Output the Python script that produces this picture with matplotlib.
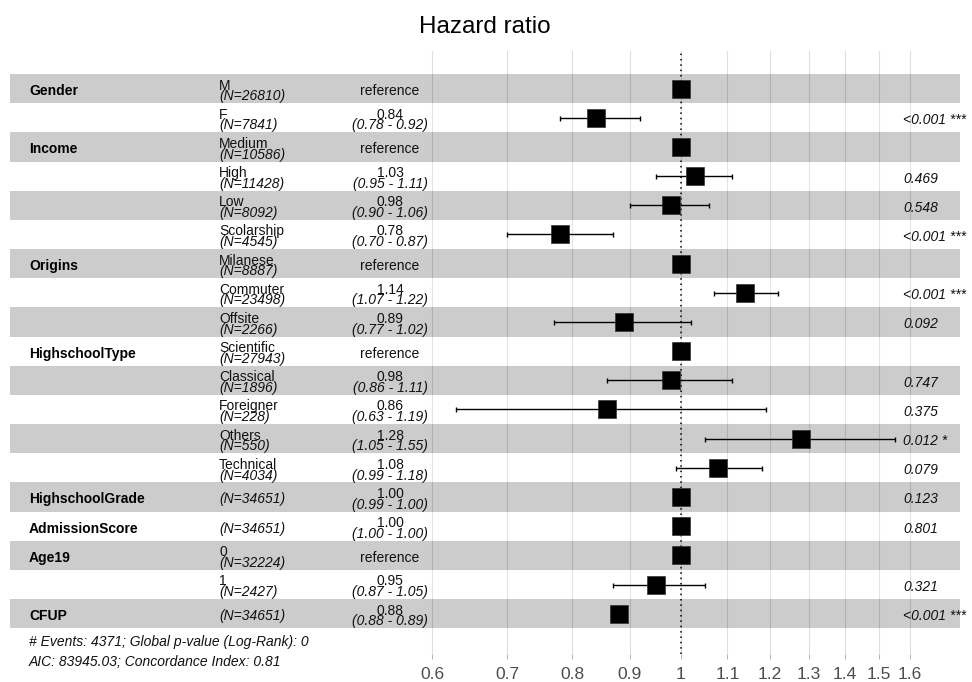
import numpy as np
import matplotlib
matplotlib.use("Agg")
import matplotlib.pyplot as plt
from matplotlib.ticker import FixedLocator, NullLocator

plt.rcParams['font.family'] = ['Liberation Sans', 'DejaVu Sans']

# one entry per row, top to bottom
var_names = ["Gender", "", "Income", "", "", "", "Origins", "", "",
             "HighschoolType", "", "", "", "", "HighschoolGrade",
             "AdmissionScore", "Age19", "", "CFUP"]
levels = ["M", "F", "Medium", "High", "Low", "Scolarship", "Milanese",
          "Commuter", "Offsite", "Scientific", "Classical", "Foreigner",
          "Others", "Technical", "", "", "0", "1", ""]
n_obs = [26810, 7841, 10586, 11428, 8092, 4545, 8887, 23498, 2266, 27943,
         1896, 228, 550, 4034, 34651, 34651, 32224, 2427, 34651]
is_ref = [True, False, True, False, False, False, True, False, False, True,
          False, False, False, False, False, False, True, False, False]
hr = [1.00, 0.84, 1.00, 1.03, 0.98, 0.78, 1.00, 1.14, 0.89, 1.00,
      0.98, 0.86, 1.28, 1.08, 1.00, 1.00, 1.00, 0.95, 0.88]
ci_low = [np.nan, 0.78, np.nan, 0.95, 0.90, 0.70, np.nan, 1.07, 0.77, np.nan,
          0.86, 0.63, 1.05, 0.99, 0.99, 1.00, np.nan, 0.87, 0.88]
ci_high = [np.nan, 0.92, np.nan, 1.11, 1.06, 0.87, np.nan, 1.22, 1.02, np.nan,
           1.11, 1.19, 1.55, 1.18, 1.00, 1.00, np.nan, 1.05, 0.89]
p_labels = ["", "<0.001 ***", "", "0.469", "0.548", "<0.001 ***", "",
            "<0.001 ***", "0.092", "", "0.747", "0.375", "0.012 *", "0.079",
            "0.123", "0.801", "", "0.321", "<0.001 ***"]

x_breaks = [0.6, 0.7, 0.8, 0.9, 1, 1.1, 1.2, 1.3, 1.4, 1.5, 1.6]
x_break_labels = ["0.6", "0.7", "0.8", "0.9", "1", "1.1", "1.2", "1.3", "1.4", "1.5", "1.6"]

n_events = 4371
global_p = 0
aic = 83945.03
concordance = 0.81

n_rows = len(var_names)
ypos = np.arange(n_rows, 0, -1)

fig = plt.figure(figsize=(9.72, 6.82), dpi=100)
fig.patch.set_facecolor('white')
ax = fig.add_axes([10 / 972, 1 - 654 / 682, 950 / 972, 603 / 682])

ax.set_xscale('log')
ax.set_xlim(10 ** -0.598, 10 ** 0.2487)
ax.set_ylim(-0.382, 20.29)

# alternating row bands (black/white at 20% alpha like ggforest)
for i, y in enumerate(ypos):
    col = '#000000' if i % 2 == 0 else '#FFFFFF'
    ax.axhspan(y - 0.5, y + 0.5, color=col, alpha=0.2, lw=0, zorder=1)

ax.axvline(1, color='black', ls=(0, (1, 2.5)), lw=1.1, zorder=3)

hr_arr = np.array(hr)
lo = np.array(ci_low)
hi = np.array(ci_high)
ax.errorbar(hr_arr, ypos, xerr=[hr_arr - lo, hi - hr_arr], fmt='none',
            ecolor='black', elinewidth=1.0, capsize=1.8, capthick=1.0, zorder=4)
ax.plot(hr_arr, ypos, ls='none', marker='s', markersize=13, color='black',
        markeredgecolor='#333333', markeredgewidth=0.5, zorder=5)

tr = ax.get_yaxis_transform()
fs = 10
txt_col = '#111111'
single = -0.22   # baseline of one-line cells
top = -0.03      # baseline of first line in two-line cells
bottom = -0.40   # baseline of second line
for i, y in enumerate(ypos):
    if var_names[i]:
        ax.text(0.02, y + single, var_names[i], transform=tr, ha='left',
                va='baseline', fontsize=fs, fontweight='bold', color='black')
    n_str = f"(N={n_obs[i]})"
    if levels[i]:
        ax.text(0.22, y + top, levels[i], transform=tr, ha='left',
                va='baseline', fontsize=fs, color=txt_col)
        ax.text(0.22, y + bottom, n_str, transform=tr, ha='left',
                va='baseline', fontsize=fs, style='italic', color=txt_col)
    else:
        ax.text(0.22, y + single, n_str, transform=tr, ha='left',
                va='baseline', fontsize=fs, style='italic', color=txt_col)
    if is_ref[i]:
        ax.text(0.40, y + single, "reference", transform=tr, ha='center',
                va='baseline', fontsize=fs, color=txt_col)
    else:
        ax.text(0.40, y + top, f"{hr[i]:.2f}", transform=tr, ha='center',
                va='baseline', fontsize=fs, color=txt_col)
        ax.text(0.40, y + bottom, f"({ci_low[i]:.2f} - {ci_high[i]:.2f})",
                transform=tr, ha='center', va='baseline', fontsize=fs,
                style='italic', color=txt_col)
    if p_labels[i]:
        ax.text(0.94, y + single, p_labels[i], transform=tr, ha='left',
                va='baseline', fontsize=fs, style='italic', color=txt_col)

ax.annotate(f"# Events: {n_events}; Global p-value (Log-Rank): {global_p}\n"
            f"AIC: {aic:.2f}; Concordance Index: {concordance:.2f}",
            xy=(0.02, 0.5), xycoords=tr, xytext=(0, -5), textcoords='offset points',
            ha='left', va='top', fontsize=fs, style='italic', color=txt_col,
            linespacing=1.55, annotation_clip=False)

ax.xaxis.set_major_locator(FixedLocator(x_breaks))
ax.xaxis.set_minor_locator(NullLocator())
ax.set_xticklabels(x_break_labels)
ax.tick_params(axis='x', length=3.6, width=0.7, color='#B3B3B3',
               labelsize=12.5, labelcolor='#4D4D4D', pad=5.5)
ax.set_yticks([])
ax.grid(axis='x', color='#DEDEDE', lw=0.8)
ax.set_axisbelow(True)
for s in ax.spines.values():
    s.set_visible(False)

fig.text(485 / 972, 1 - 33 / 682, "Hazard ratio", ha='center', va='baseline',
         fontsize=17.5, color='black')

fig.savefig("out.png", dpi=100)
